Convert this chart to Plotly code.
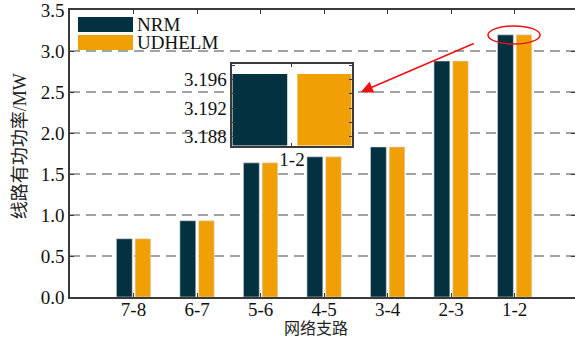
import plotly.graph_objects as go

# Branch power flow, NRM vs UDHELM
branches = ["7-8", "6-7", "5-6", "4-5", "3-4", "2-3", "1-2"]
nrm = [0.71, 0.93, 1.636, 1.709, 1.83, 2.878, 3.1968]
udhelm = [0.71, 0.93, 1.636, 1.709, 1.83, 2.878, 3.1968]

# zoomed view of branch 1-2
zoom_branch = ["1-2"]
zoom_nrm = [3.1968]
zoom_udhelm = [3.1968]

y_ticks = [0.0, 0.5, 1.0, 1.5, 2.0, 2.5, 3.0, 3.5]

C_NRM = "#04313f"
C_UD = "#f0a005"
AX = "#3a3a3a"
SERIF = "Liberation Serif"
CJK = "Liberation Serif, Noto Sans CJK SC"

fig = go.Figure()

edge = dict(color="#d8dcdd", width=0.6)
fig.add_trace(go.Bar(x=branches, y=nrm, name="NRM", marker=dict(color=C_NRM, line=edge),
                     width=0.25, offset=-0.27, xaxis="x", yaxis="y", showlegend=False))
fig.add_trace(go.Bar(x=branches, y=udhelm, name="UDHELM", marker=dict(color=C_UD, line=edge),
                     width=0.245, offset=0.025, xaxis="x", yaxis="y", showlegend=False))
# carrier for the right-hand tick column
fig.add_trace(go.Scatter(x=[branches[0]], y=[0], xaxis="x", yaxis="y3", mode="markers",
                         marker=dict(opacity=0), showlegend=False, hoverinfo="skip"))

fig.add_trace(go.Bar(x=zoom_branch, y=zoom_nrm, marker=dict(color=C_NRM, line=dict(width=0)),
                     width=0.46, offset=-0.5, xaxis="x2", yaxis="y2", showlegend=False))
fig.add_trace(go.Bar(x=zoom_branch, y=zoom_udhelm, marker=dict(color=C_UD, line=dict(width=0)),
                     width=0.455, offset=0.045, xaxis="x2", yaxis="y2", showlegend=False))


def tfont():
    return dict(family=SERIF, size=19, color="#111111")


fig.update_layout(
    width=575, height=344,
    margin=dict(l=70, r=0, t=10, b=47),
    paper_bgcolor="white", plot_bgcolor="white",
    font=dict(family=SERIF, size=19, color="#111111"),
    barmode="overlay",
)
fig.update_layout(
    xaxis=dict(domain=[0, 1], type="category", categoryorder="array", categoryarray=branches,
               range=[-1, 6.95], showline=True, linecolor=AX, linewidth=1.5, mirror="ticks",
               ticks="inside", ticklen=4, tickcolor=AX, tickwidth=1, showgrid=False,
               tickfont=tfont(), zeroline=False, ticklabelstandoff=-6),
    yaxis=dict(domain=[0, 1], range=[0, 3.5], tickvals=y_ticks,
               ticktext=[f"{v:.1f}" for v in y_ticks], ticklabeloverflow="allow",
               showline=True, linecolor=AX, linewidth=1.5, mirror=False,
               ticks="inside", ticklen=4, tickcolor=AX, tickwidth=1,
               showgrid=True, gridcolor="#a3a3a3", gridwidth=2, griddash="10px,6px",
               zeroline=False, tickfont=tfont()),
    yaxis3=dict(overlaying="y", side="right", range=[0, 3.5], tickvals=y_ticks,
                showticklabels=False, ticks="inside", ticklen=4, tickcolor=AX, tickwidth=1,
                showline=False, showgrid=False, zeroline=False),
    xaxis2=dict(domain=[0.3214, 0.5578], anchor="y2", type="category", range=[-0.5, 0.5],
                showline=True, linecolor=AX, linewidth=1.5, mirror="ticks",
                ticks="inside", ticklen=3, tickcolor=AX, showgrid=False, zeroline=False,
                tickfont=tfont(), ticklabelstandoff=-4),
    yaxis2=dict(domain=[0.5277, 0.812], anchor="x2", range=[3.18675, 3.1982],
                tickvals=[3.188, 3.192, 3.196], ticktext=["3.188", "3.192", "3.196"],
                minor=dict(tickvals=[3.188, 3.190, 3.192, 3.194, 3.196, 3.198],
                           ticks="inside", ticklen=3, tickcolor=AX),
                showline=True, linecolor=AX, linewidth=1.5, mirror="ticks",
                ticks="inside", ticklen=3, tickcolor=AX, showgrid=False, zeroline=False,
                tickfont=tfont()),
)

# legend swatches and labels
for (y0, y1, col, label) in [(0.9234, 0.9756, C_NRM, "NRM"), (0.8608, 0.9130, C_UD, "UDHELM")]:
    fig.add_shape(type="rect", xref="paper", yref="paper", x0=0.0158, x1=0.1248,
                  y0=y0, y1=y1, fillcolor=col, line=dict(width=0))
    fig.add_annotation(xref="paper", yref="paper", x=0.1287, y=(y0 + y1) / 2, text=label,
                       showarrow=False, xanchor="left", yanchor="middle",
                       font=dict(family=SERIF, size=19, color="#111111"))

# highlight of the 1-2 bar tops and pointer to the zoomed view
fig.add_shape(type="circle", xref="x", yref="y", x0=5.58, x1=6.40, y0=3.085, y1=3.305,
              line=dict(color="#ee1111", width=1.5))
fig.add_annotation(xref="x", yref="y", axref="x", ayref="y", x=3.58, y=2.50, ax=5.38, ay=3.10,
                   showarrow=True, arrowhead=2, arrowsize=1.6, arrowwidth=1.5,
                   arrowcolor="#ee1111", text="")

# axis titles
fig.add_annotation(xref="paper", yref="paper", x=-0.099, y=0.525, text="线路有功功率/MW",
                   textangle=-90, showarrow=False, xanchor="center", yanchor="middle",
                   font=dict(family=CJK, size=18, color="#222222"))
fig.add_annotation(xref="paper", yref="paper", x=0.488, y=-0.107, text="网络支路",
                   showarrow=False, xanchor="center", yanchor="middle",
                   font=dict(family=CJK, size=16, color="#222222"))

fig.write_html("out.html")
